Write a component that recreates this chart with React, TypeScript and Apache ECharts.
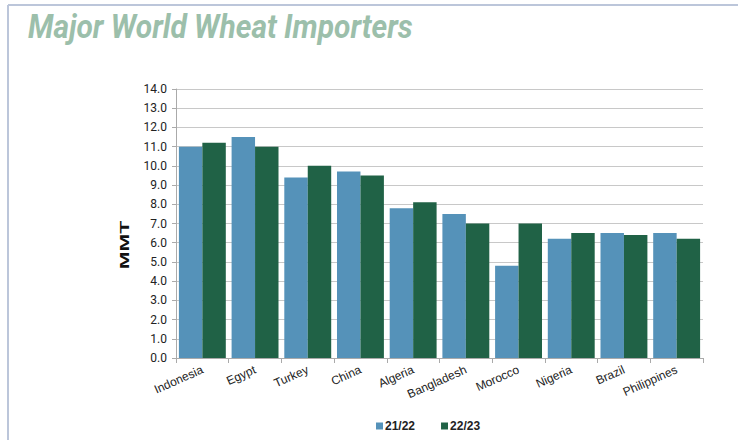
import React, { useEffect, useRef } from "react";
import * as echarts from "echarts";

const categories = ["Indonesia", "Egypt", "Turkey", "China", "Algeria", "Bangladesh", "Morocco", "Nigeria", "Brazil", "Philippines"];
const s2122 = [11.0, 11.5, 9.4, 9.7, 7.8, 7.5, 4.8, 6.2, 6.5, 6.5];
const s2223 = [11.2, 11.0, 10.0, 9.5, 8.1, 7.0, 7.0, 6.5, 6.4, 6.2];
const seriesNames = ["21/22", "22/23"];

export default function App() {
  const ref = useRef<HTMLDivElement>(null);
  useEffect(() => {
    const chart = echarts.init(ref.current!, null, { renderer: "svg" });
    chart.setOption({
      animation: false,
      backgroundColor: "#ffffff",
      graphic: [
        { type: "line", shape: { x1: 8, y1: 5, x2: 738, y2: 5 }, style: { stroke: "#bcc6da", lineWidth: 2 } },
        { type: "line", shape: { x1: 8, y1: 5, x2: 8, y2: 440 }, style: { stroke: "#bcc6da", lineWidth: 2 } },
        {
          type: "text",
          x: 28,
          y: 9,
          scaleX: 0.88,
          style: {
            text: "Major World Wheat Importers",
            font: "italic bold 34px Roboto",
            fill: "#9cbfab",
          },
        },
        {
          type: "text",
          x: 125,
          y: 245,
          rotation: Math.PI / 2,
          scaleX: 1.78,
          style: {
            text: "MMT",
            font: "bold 12px 'Liberation Sans'",
            fill: "#111",
            textAlign: "center",
            textVerticalAlign: "middle",
          },
        },
      ],
      grid: { left: 176, right: 35, top: 89, bottom: 82 },
      legend: {
        bottom: 3,
        left: 371,
        itemWidth: 7,
        itemHeight: 7,
        itemGap: 26,
        icon: "rect",
        data: seriesNames,
        textStyle: { fontFamily: "'Liberation Sans Narrow', 'Liberation Sans'", fontWeight: "bold", fontSize: 12, color: "#222", padding: [0, 0, 0, -3] },
      },
      xAxis: {
        type: "category",
        data: categories,
        axisLine: { show: true, lineStyle: { color: "#aaaaaa" } },
        axisTick: { show: true, length: 5, lineStyle: { color: "#aaaaaa" } },
        axisLabel: { rotate: 24, fontFamily: "Liberation Sans", fontSize: 12, color: "#222", margin: 11, interval: 0 },
      },
      yAxis: {
        type: "value",
        min: 0,
        max: 14,
        interval: 1,
        axisLine: { show: true, lineStyle: { color: "#aaaaaa" } },
        axisTick: { show: true, length: 4, lineStyle: { color: "#aaaaaa" } },
        axisLabel: { formatter: (v: number) => v.toFixed(1), fontFamily: "Roboto", fontSize: 12, color: "#222", margin: 9 },
        splitLine: { lineStyle: { color: "#c8c8c8", width: 1 } },
      },
      series: [
        { name: seriesNames[0], type: "bar", data: s2122, barGap: "0%", barCategoryGap: "11%", itemStyle: { color: "#5592b9" } },
        { name: seriesNames[1], type: "bar", data: s2223, barGap: "0%", barCategoryGap: "11%", itemStyle: { color: "#206246" } },
      ],
    });
    return () => chart.dispose();
  }, []);
  return <div ref={ref} style={{ position: "fixed", left: 0, top: 0, width: 738, height: 440 }} />;
}
